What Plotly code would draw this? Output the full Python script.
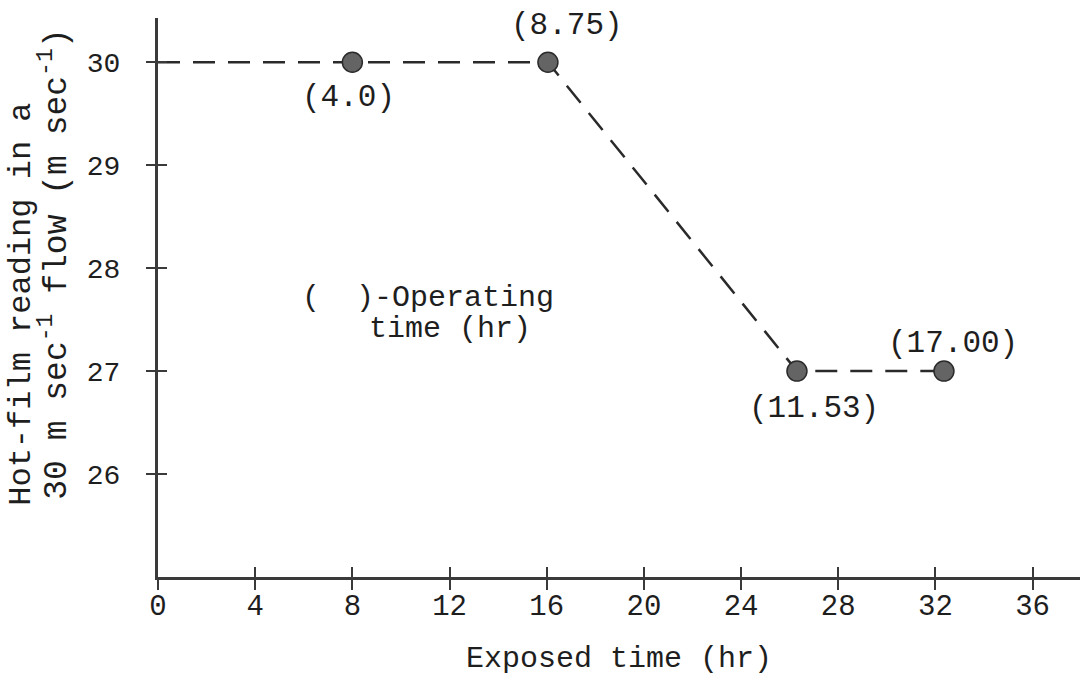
import plotly.graph_objects as go

# Data
exposed_time = [8.0, 16.05, 26.3, 32.35]
reading = [30.0, 30.0, 27.0, 27.0]
operating_labels = ["(4.0)", "(8.75)", "(11.53)", "(17.00)"]
# dashed line path (starts at the y axis)
line_x = [0.0, 8.0, 16.05, 26.3, 32.35]
line_y = [30.0, 30.0, 30.0, 27.0, 27.0]

x_ticks = [0, 4, 8, 12, 16, 20, 24, 28, 32, 36]
y_ticks = [26, 27, 28, 29, 30]

FONT = "Liberation Mono, Courier New, monospace"
INK = "#1e1e1e"
AX = "#3a3a3a"

fig = go.Figure()
fig.add_trace(go.Scatter(x=line_x, y=line_y, mode="lines",
                         line=dict(color="#2a2a2a", width=2.5, dash="22px,13px"),
                         hoverinfo="skip", showlegend=False))
fig.add_trace(go.Scatter(x=exposed_time, y=reading, mode="markers",
                         marker=dict(size=20, color="#646464",
                                     line=dict(color="#2a2a2a", width=1.5)),
                         showlegend=False))

# label offsets in pixels (xshift, yshift)
shifts = [(-4, -35), (19, 37), (17, -37), (9, 28)]
for xv, yv, lab, (dx, dy) in zip(exposed_time, reading, operating_labels, shifts):
    fig.add_annotation(x=xv, y=yv, text=lab, showarrow=False, xshift=dx, yshift=dy,
                       font=dict(family=FONT, size=31, color=INK))

fig.add_annotation(x=5.84, y=27.71, text="(\u00a0\u00a0)-Operating", showarrow=False,
                   xanchor="left", font=dict(family=FONT, size=30, color=INK))
fig.add_annotation(x=8.6, y=27.41, text="time (hr)", showarrow=False,
                   xanchor="left", font=dict(family=FONT, size=30, color=INK))

# y axis title as two rotated lines
fig.add_annotation(xref="paper", yref="paper", x=-0.148, y=0.488, xanchor="center",
                   yanchor="middle", text="Hot-film reading in a", textangle=-90,
                   showarrow=False, font=dict(family=FONT, size=32, color=INK))
fig.add_annotation(xref="paper", yref="paper", x=-0.112, y=0.56, xanchor="center",
                   yanchor="middle",
                   text="30 m sec<sup>-1</sup> flow (m sec<sup>-1</sup>)", textangle=-90,
                   showarrow=False, font=dict(family=FONT, size=33, color=INK))

xr = [0, 37.95]
yr = [25.0, 30.43]

fig.update_layout(
    width=1080, height=686,
    margin=dict(l=158, r=0, t=18, b=109),
    paper_bgcolor="white", plot_bgcolor="white",
    font=dict(family=FONT, color=INK),
    xaxis=dict(range=xr, tickvals=x_ticks, ticks="outside", ticklen=10, tickwidth=2,
               tickcolor=AX, showline=True, linecolor=AX, linewidth=3,
               showgrid=False, zeroline=False, ticklabelstandoff=-10,
               tickfont=dict(family=FONT, size=29, color=INK),
               title=dict(text="Exposed time (hr)", font=dict(family=FONT, size=30, color=INK),
                          standoff=24)),
    yaxis=dict(range=yr, tickvals=y_ticks, ticks="outside", ticklen=9, tickwidth=2,
               tickcolor=AX, showline=True, linecolor=AX, linewidth=3,
               showgrid=False, zeroline=False, ticklabelstandoff=20,
               tickfont=dict(family=FONT, size=28, color=INK)),
    xaxis2=dict(range=xr, overlaying="x", tickvals=x_ticks, ticks="inside", ticklen=10,
                tickwidth=2, tickcolor=AX, showticklabels=False, showgrid=False,
                zeroline=False, side="bottom", anchor="y"),
    yaxis2=dict(range=yr, overlaying="y", tickvals=y_ticks, ticks="inside", ticklen=9,
                tickwidth=2, tickcolor=AX, showticklabels=False, showgrid=False,
                zeroline=False, side="left", anchor="x"),
)
# invisible trace to activate the overlay axes
fig.add_trace(go.Scatter(x=[None], y=[None], xaxis="x2", yaxis="y2",
                         showlegend=False, hoverinfo="skip"))

fig.write_html("out.html")
